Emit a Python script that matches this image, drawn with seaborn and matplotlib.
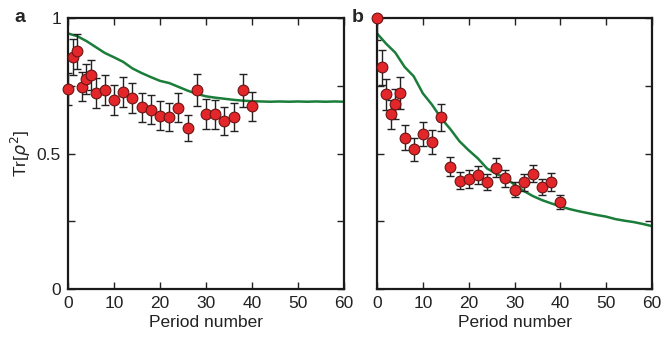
import numpy as np
import pandas as pd
import seaborn as sns
import matplotlib.pyplot as plt
from matplotlib.ticker import MultipleLocator

# measured points (period number, Tr[rho^2], error)
period = [0, 1, 2, 3, 4, 5, 6, 8, 10, 12, 14, 16, 18, 20, 22, 24, 26, 28, 30, 32, 34, 36, 38, 40]
purity_a = [0.737, 0.856, 0.877, 0.747, 0.775, 0.790, 0.722, 0.735, 0.698, 0.726, 0.706, 0.670,
            0.662, 0.640, 0.635, 0.669, 0.595, 0.735, 0.646, 0.644, 0.621, 0.635, 0.733, 0.674]
err_a = [0.059, 0.065, 0.065, 0.055, 0.055, 0.055, 0.055, 0.055, 0.056, 0.055, 0.055, 0.054,
         0.054, 0.054, 0.052, 0.054, 0.048, 0.06, 0.054, 0.054, 0.052, 0.052, 0.06, 0.054]
purity_b = [1.0, 0.818, 0.718, 0.645, 0.682, 0.724, 0.559, 0.516, 0.573, 0.543, 0.633, 0.451,
            0.400, 0.406, 0.422, 0.395, 0.447, 0.408, 0.366, 0.393, 0.426, 0.377, 0.395, 0.321]
err_b = [0.08, 0.065, 0.058, 0.053, 0.055, 0.058, 0.045, 0.042, 0.045, 0.045, 0.05, 0.035,
         0.03, 0.033, 0.033, 0.03, 0.035, 0.032, 0.028, 0.03, 0.033, 0.03, 0.032, 0.026]

# simulation curves
sim_period = list(range(0, 61, 2))
sim_a = [0.943, 0.933, 0.915, 0.893, 0.871, 0.855, 0.838, 0.814, 0.797, 0.782, 0.768, 0.760,
         0.746, 0.732, 0.720, 0.711, 0.706, 0.702, 0.698, 0.695, 0.693, 0.692, 0.691, 0.692,
         0.691, 0.692, 0.691, 0.692, 0.691, 0.692, 0.691]
sim_b = [0.943, 0.905, 0.872, 0.820, 0.785, 0.722, 0.680, 0.630, 0.590, 0.545, 0.512, 0.482,
         0.445, 0.425, 0.410, 0.385, 0.362, 0.343, 0.328, 0.316, 0.305, 0.295, 0.287, 0.280,
         0.273, 0.267, 0.258, 0.252, 0.247, 0.240, 0.232]

sns.set_style("ticks")
plt.rcParams["font.family"] = ["Liberation Sans", "DejaVu Sans"]
plt.rcParams["mathtext.fontset"] = "dejavusans"

RED = "#e3262a"
GREEN = "#1a7d3a"
FS = 12.5

fig = plt.figure(figsize=(6.61, 3.37), dpi=100)
ax_a = fig.add_axes([68 / 661, 1 - 289 / 337, 276 / 661, 271 / 337])
ax_b = fig.add_axes([377 / 661, 1 - 289 / 337, 275 / 661, 271 / 337])


def draw_panel(ax, purity, err, sim):
    pts = pd.DataFrame({"period": period, "purity": purity, "err": err})
    sim_df = pd.DataFrame({"period": sim_period, "purity": sim})
    sns.lineplot(data=sim_df, x="period", y="purity", ax=ax, color=GREEN, lw=1.8, zorder=2)
    ax.errorbar(pts["period"], pts["purity"], yerr=pts["err"], fmt="none", ecolor="#222222",
                elinewidth=1.0, capsize=3, capthick=1.0, zorder=3)
    sns.scatterplot(data=pts, x="period", y="purity", ax=ax, color=RED, s=60,
                    edgecolor="#6a1414", linewidth=0.8, zorder=4, clip_on=False)
    ax.set_xlim(0, 60)
    ax.set_ylim(0, 1)
    ax.xaxis.set_major_locator(MultipleLocator(10))
    ax.tick_params(direction="in", top=True, right=True, length=5, width=1,
                   labelsize=FS, pad=5, color="#222222", labelcolor="#222222")
    for s in ax.spines.values():
        s.set_linewidth(1.6)
        s.set_color("#1a1a1a")
    ax.set_xlabel("Period number", fontsize=FS, labelpad=3, color="#222222")
    ax.set_ylabel("")


draw_panel(ax_a, purity_a, err_a, sim_a)
draw_panel(ax_b, purity_b, err_b, sim_b)

ax_a.set_yticks([0, 0.25, 0.5, 0.75, 1])
ax_a.set_yticklabels(["0", "", "0.5", "", "1"])
ax_b.set_yticks([0, 0.25, 0.5, 0.75, 1])
ax_b.set_yticklabels([])
ax_a.set_ylabel(r"Tr[$\rho^2$]", fontsize=FS, labelpad=3, color="#222222")

fig.text(14 / 661, 1 - 22 / 337, "a", fontsize=14, fontweight="bold")
fig.text(352 / 661, 1 - 22 / 337, "b", fontsize=14, fontweight="bold")

fig.savefig("out.png", dpi=100)
